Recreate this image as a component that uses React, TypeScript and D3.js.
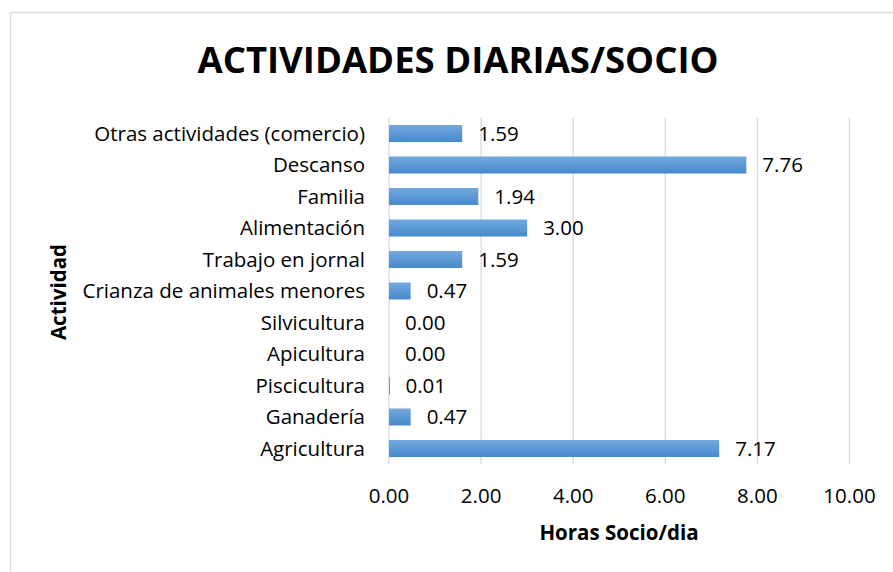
import React from "react";
import * as d3 from "d3";

const categories = [
  "Otras actividades (comercio)",
  "Descanso",
  "Familia",
  "Alimentación",
  "Trabajo en jornal",
  "Crianza de animales menores",
  "Silvicultura",
  "Apicultura",
  "Piscicultura",
  "Ganadería",
  "Agricultura",
];
const values = [1.59, 7.76, 1.94, 3.0, 1.59, 0.47, 0.0, 0.0, 0.01, 0.47, 7.17];
const xTicks = [0, 2, 4, 6, 8, 10];
const title = "ACTIVIDADES DIARIAS/SOCIO";
const xTitle = "Horas Socio/dia";
const yTitle = "Actividad";

const FONT = "'Open Sans', sans-serif";
const FS = 20.5;

export default function App() {
  const W = 893, H = 572;
  const x = d3.scaleLinear().domain([0, 10]).range([389, 849.5]);
  const y = d3.scaleBand<string>().domain(categories).range([117.75, 464.25]).paddingInner(0.46).paddingOuter(0.23);
  return (
    <svg width={W} height={H} style={{ position: "absolute", left: 0, top: 0 }}>
      <defs>
        <linearGradient id="bar" x1="0" y1="0" x2="0" y2="1">
          <stop offset="0" stopColor="#74a9de" />
          <stop offset="1" stopColor="#4689cc" />
        </linearGradient>
      </defs>
      <rect x={0} y={0} width={W} height={H} fill="#fff" />
      <rect x={10.5} y={12.5} width={W + 10} height={H + 10} fill="none" stroke="#d9dee5" strokeWidth={1.5} />
      <text x={458} y={73} textAnchor="middle" fontFamily={FONT} fontWeight="bold" fontSize={36.5} fill="#000">{title}</text>
      {xTicks.map((t) => (
        <g key={t}>
          <line x1={x(t)} x2={x(t)} y1={117.75} y2={464.25} stroke="#d9dde4" strokeWidth={1.5} />
          <text x={x(t)} y={503} textAnchor="middle" fontFamily={FONT} fontSize={FS} fill="#000">{t.toFixed(2)}</text>
        </g>
      ))}
      {categories.map((c, i) => {
        const yy = y(c)!;
        const bw = y.bandwidth();
        const v = values[i];
        return (
          <g key={c}>
            <text x={365} y={yy + bw / 2} dy="0.35em" textAnchor="end" fontFamily={FONT} fontSize={FS} fill="#000">{c}</text>
            {v > 0 && <rect x={x(0)} y={yy} width={Math.max(x(v) - x(0), 1)} height={bw} fill="url(#bar)" />}
            <text x={x(v) + 16} y={yy + bw / 2} dy="0.35em" fontFamily={FONT} fontSize={FS} fill="#000">{v.toFixed(2)}</text>
          </g>
        );
      })}
      <text x={619} y={540} textAnchor="middle" fontFamily={FONT} fontWeight="bold" fontSize={FS} fill="#000">{xTitle}</text>
      <text transform="translate(66,292) rotate(-90)" textAnchor="middle" fontFamily={FONT} fontWeight="bold" fontSize={FS} fill="#000">{yTitle}</text>
    </svg>
  );
}
